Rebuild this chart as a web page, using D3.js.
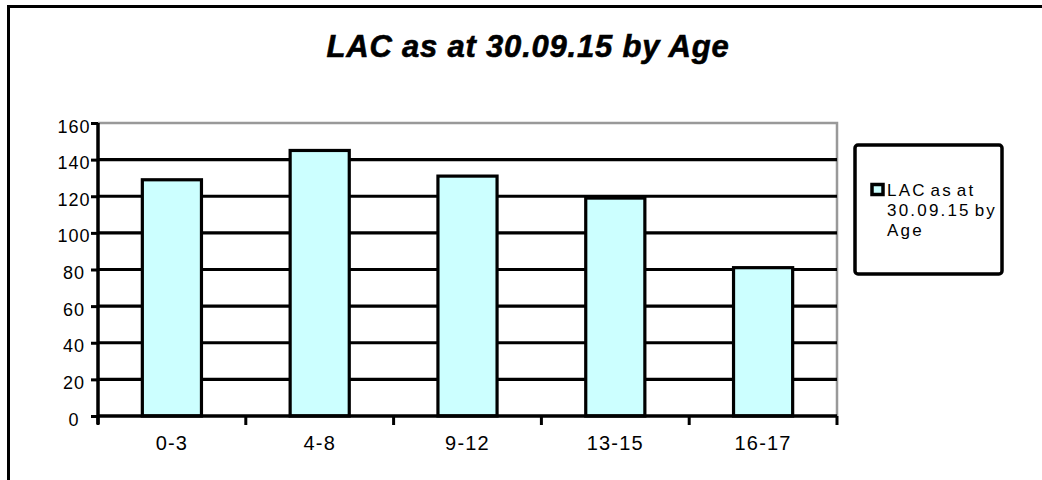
<!DOCTYPE html>
<html>
<head>
<meta charset="utf-8">
<script src="https://cdn.jsdelivr.net/npm/d3@7"></script>
<style>
  body { margin: 0; background: #fff; }
  svg { display: block; font-family: "Liberation Sans", Arial, sans-serif; }
</style>
</head>
<body>
<svg id="chart" width="1042" height="480"></svg>
<script>
// data
const ageGroups = ['0-3', '4-8', '9-12', '13-15', '16-17'];
const lacCounts = [129, 145, 131, 119, 81];
const yTicks = [0, 20, 40, 60, 80, 100, 120, 140, 160];
const chartTitle = 'LAC as at 30.09.15 by Age';
const legendLines = ['LAC as at', '30.09.15 by', 'Age'];

let svg = d3.select('#chart');

// outer frame, runs off the right and bottom edges
svg.append('rect')
  .attr('x', 8.5).attr('y', 6.5)
  .attr('width', 1100).attr('height', 600)
  .attr('fill', 'none')
  .attr('stroke', '#000')
  .attr('stroke-width', 3);

// title
svg.append('text')
  .attr('x', 528).attr('y', 57)
  .attr('text-anchor', 'middle')
  .attr('font-size', 31)
  .attr('font-weight', 'bold')
  .attr('font-style', 'italic')
  .attr('letter-spacing', 0.8)
  .attr('stroke', '#000')
  .attr('stroke-width', 0.6)
  .text(chartTitle);

let plotL = 98, plotR = 837, plotT = 123, plotB = 416;

let x = d3.scaleBand()
  .domain(ageGroups)
  .range([plotL, plotR])
  .paddingInner(0.6)
  .paddingOuter(0.3);

let y = d3.scaleLinear()
  .domain([0, 160])
  .range([plotB, plotT]);

// grey plot border (top and right)
svg.append('path')
  .attr('d', `M${plotL},${plotT}H${plotR}V${plotB}`)
  .attr('fill', 'none')
  .attr('stroke', '#999')
  .attr('stroke-width', 2.5);

// gridlines
svg.append('g')
  .selectAll('line')
  .data(yTicks.filter(d => d > 0 && d < 160))
  .join('line')
  .attr('x1', plotL).attr('x2', plotR)
  .attr('y1', d => y(d)).attr('y2', d => y(d))
  .attr('stroke', '#000')
  .attr('stroke-width', 3.2);

// bars
svg.append('g')
  .selectAll('rect')
  .data(lacCounts)
  .join('rect')
  .attr('x', (d, i) => x(ageGroups[i]))
  .attr('y', d => y(d))
  .attr('width', x.bandwidth())
  .attr('height', d => plotB - y(d))
  .attr('fill', '#ccffff')
  .attr('stroke', '#000')
  .attr('stroke-width', 3.2);

// y axis
let yAxis = d3.axisLeft(y)
  .tickValues(yTicks)
  .tickSize(7)
  .tickPadding(0)
  .tickFormat(d3.format('d'));

let gy = svg.append('g')
  .attr('transform', `translate(${plotL},0)`)
  .call(yAxis);
gy.select('.domain')
  .attr('d', `M0,${plotT}V${plotB + 8}`)
  .attr('stroke-width', 3.5);
gy.selectAll('.tick line').attr('stroke-width', 3);
gy.selectAll('.tick text')
  .attr('x', -24)
  .attr('dy', '0.5em')
  .attr('text-anchor', 'middle')
  .attr('font-size', 18)
  .attr('letter-spacing', 1)
  .attr('fill', '#000');

// x axis: ticks sit on the category boundaries
let xAxis = d3.axisBottom(x).tickSize(0).tickPadding(0);
let gx = svg.append('g')
  .attr('transform', `translate(0,${plotB})`)
  .call(xAxis);
gx.select('.domain')
  .attr('d', `M${plotL},0H${plotR}`)
  .attr('stroke-width', 3.5);
gx.selectAll('.tick text')
  .attr('y', 34)
  .attr('dy', 0)
  .attr('font-size', 20)
  .attr('letter-spacing', 1.2)
  .attr('fill', '#000');

let boundaries = ageGroups.map(d => x(d) - x.step() * x.paddingInner() / 2);
boundaries.push(plotR);
gx.append('g')
  .selectAll('line')
  .data(boundaries)
  .join('line')
  .attr('x1', d => d).attr('x2', d => d)
  .attr('y1', 0).attr('y2', 9)
  .attr('stroke', '#000')
  .attr('stroke-width', 3);

// legend
let legend = svg.append('g');
legend.append('rect')
  .attr('x', 855).attr('y', 145)
  .attr('width', 147).attr('height', 129)
  .attr('rx', 3)
  .attr('fill', '#fff')
  .attr('stroke', '#000')
  .attr('stroke-width', 3.5);
legend.append('rect')
  .attr('x', 872).attr('y', 184.5)
  .attr('width', 11).attr('height', 10)
  .attr('fill', '#ccffff')
  .attr('stroke', '#000')
  .attr('stroke-width', 3.5);
legend.append('text')
  .attr('font-size', 17)
  .attr('letter-spacing', 2.2)
  .attr('word-spacing', -3)
  .selectAll('tspan')
  .data(legendLines)
  .join('tspan')
  .attr('x', 887)
  .attr('y', (d, i) => 196 + i * 20)
  .text(d => d);
</script>
</body>
</html>
